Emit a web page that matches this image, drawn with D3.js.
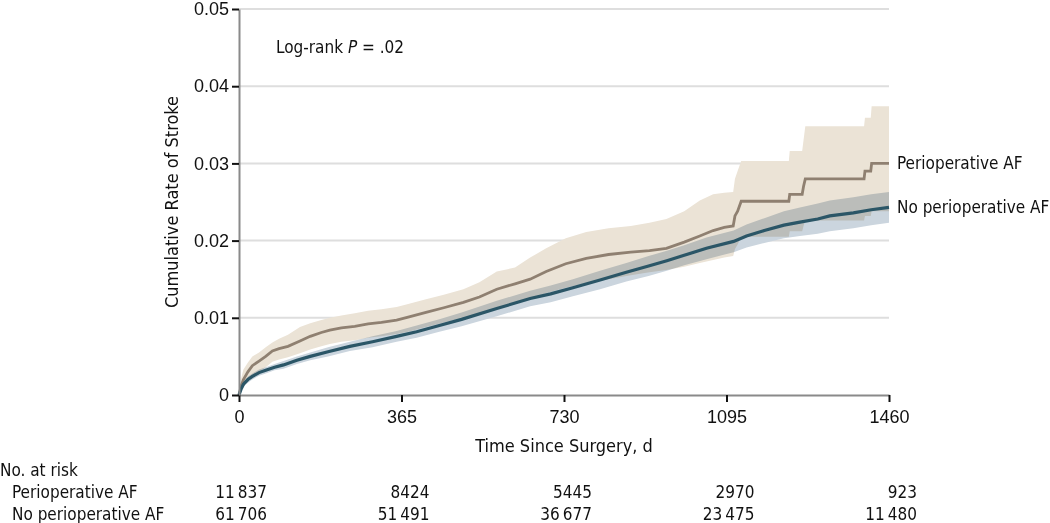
<!DOCTYPE html>
<html>
<head>
<meta charset="utf-8">
<script src="https://cdn.jsdelivr.net/npm/d3@7"></script>
<style>
  body { margin: 0; background: #fff; }
  svg { font-family: "Liberation Sans Narrow", "DejaVu Sans Condensed", sans-serif; }
  .grid line { stroke: #dedede; stroke-width: 2; }
  .axis path { stroke: #8a8a8a; stroke-width: 2; }
  .axis line { stroke: #111; stroke-width: 2; }
  .axis text { font-size: 18px; fill: #111; }
</style>
</head>
<body>
<div id="chart"></div>
<script>
// Perioperative AF: estimate and 95% CI (repeated days mark the late steps)
const periopDays  = [0, 5, 10, 20, 30, 45, 60, 75, 90, 110, 137, 160, 185, 204, 230, 260, 290, 320, 354, 380, 420, 460, 504, 540, 579, 620, 654, 690, 734, 780, 830, 880, 922, 960, 1000, 1035, 1065, 1090, 1110, 1114, 1120, 1128, 1235, 1237, 1265, 1268, 1272, 1404, 1406, 1419, 1421, 1460];
const periopRate  = [0, 0.0012, 0.002, 0.003, 0.0038, 0.0044, 0.005, 0.0057, 0.006, 0.0063, 0.007, 0.0076, 0.0081, 0.0084, 0.0087, 0.0089, 0.0092, 0.0094, 0.0097, 0.0101, 0.0107, 0.0113, 0.012, 0.0127, 0.0137, 0.0144, 0.015, 0.016, 0.017, 0.0177, 0.0182, 0.0185, 0.0187, 0.019, 0.0198, 0.0206, 0.0213, 0.0217, 0.0219, 0.0232, 0.0238, 0.0251, 0.0251, 0.026, 0.026, 0.027, 0.028, 0.028, 0.029, 0.029, 0.03, 0.03];
const periopUpper = [0, 0.0022, 0.0033, 0.0042, 0.005, 0.0055, 0.0062, 0.0068, 0.0073, 0.0078, 0.0088, 0.0093, 0.0097, 0.01, 0.0103, 0.0106, 0.0109, 0.0111, 0.0114, 0.0118, 0.0124, 0.013, 0.0137, 0.0146, 0.016, 0.0165, 0.0178, 0.019, 0.0203, 0.0211, 0.0216, 0.0219, 0.0223, 0.0228, 0.0238, 0.0252, 0.026, 0.0262, 0.0263, 0.028, 0.029, 0.0303, 0.0303, 0.0316, 0.0316, 0.033, 0.0348, 0.0348, 0.0359, 0.0359, 0.0374, 0.0374];
const periopLower = [0, 0.0005, 0.001, 0.0018, 0.0025, 0.003, 0.0036, 0.0043, 0.0046, 0.0049, 0.0054, 0.0059, 0.0063, 0.0066, 0.0069, 0.0071, 0.0074, 0.0076, 0.0079, 0.0082, 0.0088, 0.0094, 0.01, 0.0106, 0.0113, 0.012, 0.0124, 0.0132, 0.0139, 0.0145, 0.015, 0.0155, 0.0159, 0.0162, 0.0166, 0.0171, 0.0175, 0.0178, 0.018, 0.0189, 0.0195, 0.0205, 0.0205, 0.0212, 0.0212, 0.0219, 0.0226, 0.0226, 0.0232, 0.0232, 0.0238, 0.0238];

// No perioperative AF: estimate and 95% CI
const noAfDays  = [0, 5, 10, 20, 30, 45, 60, 80, 100, 130, 160, 200, 249, 300, 354, 399, 450, 500, 579, 654, 700, 750, 811, 870, 920, 961, 1000, 1050, 1111, 1140, 1180, 1224, 1260, 1300, 1327, 1380, 1420, 1460];
const noAfRate  = [0, 0.0008, 0.0014, 0.002, 0.0024, 0.0029, 0.0032, 0.0036, 0.0039, 0.0045, 0.005, 0.0056, 0.0063, 0.0069, 0.0076, 0.0082, 0.009, 0.0098, 0.0112, 0.0125, 0.0131, 0.0139, 0.0149, 0.0159, 0.0167, 0.0174, 0.0181, 0.019, 0.0199, 0.0206, 0.0213, 0.022, 0.0224, 0.0228, 0.0232, 0.0236, 0.024, 0.0243];
const noAfUpper = [0, 0.001, 0.0017, 0.0024, 0.0028, 0.0033, 0.0036, 0.004, 0.0044, 0.005, 0.0055, 0.0062, 0.0069, 0.0076, 0.0083, 0.009, 0.0098, 0.0107, 0.0122, 0.0135, 0.0142, 0.015, 0.0161, 0.0171, 0.018, 0.0187, 0.0194, 0.0204, 0.0213, 0.0221, 0.0229, 0.0238, 0.0243, 0.0248, 0.0252, 0.0256, 0.026, 0.0263];
const noAfLower = [0, 0.0006, 0.0011, 0.0016, 0.002, 0.0025, 0.0028, 0.0032, 0.0034, 0.004, 0.0045, 0.005, 0.0057, 0.0062, 0.0069, 0.0074, 0.0082, 0.0089, 0.0102, 0.0115, 0.012, 0.0128, 0.0137, 0.0147, 0.0154, 0.0161, 0.0168, 0.0176, 0.0185, 0.0191, 0.0197, 0.0203, 0.0206, 0.0209, 0.0212, 0.0216, 0.022, 0.0223];

// axes and risk table
const xTicks = [0, 365, 730, 1095, 1460];
const yTicks = [0, 0.01, 0.02, 0.03, 0.04, 0.05];
const riskLabels = ['Perioperative AF', 'No perioperative AF'];
const riskPeriop = ['11\u2009837', '8424', '5445', '2970', '923'];
const riskNoAf   = ['61\u2009706', '51\u2009491', '36\u2009677', '23\u2009475', '11\u2009480'];

const width = 1050;
const height = 523;
const margin = { top: 9, right: 161, bottom: 128, left: 239 };

const svg = d3.select('#chart')
  .append('svg')
  .attr('width', width)
  .attr('height', height);

const xScale = d3.scaleLinear()
  .domain([0, 1460])
  .range([margin.left, width - margin.right]);

const yScale = d3.scaleLinear()
  .domain([0, 0.05])
  .range([height - margin.bottom, margin.top]);

// gridlines
svg.append('g')
  .attr('class', 'grid')
  .selectAll('line')
  .data(yTicks.filter(d => d > 0))
  .enter()
  .append('line')
  .attr('x1', xScale(0))
  .attr('x2', xScale(1460))
  .attr('y1', d => yScale(d))
  .attr('y2', d => yScale(d));

function zip(days, a, b) {
  return days.map((d, i) => ({ t: d, y0: a[i], y1: b ? b[i] : null }));
}

const band = d3.area()
  .x(d => xScale(d.t))
  .y0(d => yScale(d.y0))
  .y1(d => yScale(d.y1));

const line = d3.line()
  .x(d => xScale(d.t))
  .y(d => yScale(d.y0));

const plot = svg.append('g').style('isolation', 'isolate');

// confidence bands, multiplied so the overlap darkens
plot.append('path')
  .datum(zip(noAfDays, noAfLower, noAfUpper))
  .attr('d', band)
  .attr('fill', '#cbd5de')
  .style('mix-blend-mode', 'multiply');

plot.append('path')
  .datum(zip(periopDays, periopLower, periopUpper))
  .attr('d', band)
  .attr('fill', '#ebe3d6')
  .style('mix-blend-mode', 'multiply');

plot.append('path')
  .datum(zip(periopDays, periopRate))
  .attr('d', line)
  .attr('fill', 'none')
  .attr('stroke', '#8f8071')
  .attr('stroke-width', 2.8);

plot.append('path')
  .datum(zip(noAfDays, noAfRate))
  .attr('d', line)
  .attr('fill', 'none')
  .attr('stroke', '#2b5667')
  .attr('stroke-width', 3.2);

// axes
svg.append('g')
  .attr('class', 'axis')
  .attr('transform', `translate(0, ${yScale(0)})`)
  .call(d3.axisBottom(xScale).tickValues(xTicks).tickSize(7).tickSizeOuter(0).tickPadding(5)
    .tickFormat(d3.format('d')))
  .call(g => g.selectAll('text').attr('dy', '0.9em'));

svg.append('g')
  .attr('class', 'axis')
  .attr('transform', `translate(${xScale(0)}, 0)`)
  .call(d3.axisLeft(yScale).tickValues(yTicks).tickSize(7).tickSizeOuter(0).tickPadding(3)
    .tickFormat(d => d === 0 ? '0' : d3.format('.2f')(d)));

svg.append('text')
  .attr('x', xScale(730))
  .attr('y', 452)
  .attr('text-anchor', 'middle')
  .attr('font-size', 18)
  .attr('fill', '#111')
  .text('Time Since Surgery, d');

svg.append('text')
  .attr('transform', 'rotate(-90)')
  .attr('x', -yScale(0.025))
  .attr('y', 178)
  .attr('text-anchor', 'middle')
  .attr('font-size', 18)
  .attr('fill', '#111')
  .text('Cumulative Rate of Stroke');

// log-rank annotation
const note = svg.append('text')
  .attr('x', 276)
  .attr('y', 53)
  .attr('font-size', 17)
  .attr('fill', '#111');
note.append('tspan').text('Log-rank ');
note.append('tspan').attr('font-style', 'italic').text('P');
note.append('tspan').text(' = .02');

// curve labels
svg.append('text')
  .attr('x', 897)
  .attr('y', yScale(0.03))
  .attr('dy', '0.35em')
  .attr('font-size', 17)
  .attr('fill', '#111')
  .text(riskLabels[0]);

svg.append('text')
  .attr('x', 897)
  .attr('y', yScale(0.0243))
  .attr('dy', '0.35em')
  .attr('font-size', 17)
  .attr('fill', '#111')
  .text(riskLabels[1]);

// number at risk table
svg.append('text')
  .attr('x', 0)
  .attr('y', 476)
  .attr('font-size', 17)
  .attr('fill', '#111')
  .text('No. at risk');

[riskPeriop, riskNoAf].forEach((row, r) => {
  const y = 498 + r * 22;
  svg.append('text')
    .attr('x', 12)
    .attr('y', y)
    .attr('font-size', 17)
    .attr('fill', '#111')
    .text(riskLabels[r]);

  svg.selectAll(null)
    .data(row)
    .enter()
    .append('text')
    .attr('x', (d, i) => xScale(xTicks[i]) + 28)
    .attr('y', y)
    .attr('text-anchor', 'end')
    .attr('font-size', 17)
    .attr('fill', '#111')
    .text(d => d);
});
</script>
</body>
</html>
